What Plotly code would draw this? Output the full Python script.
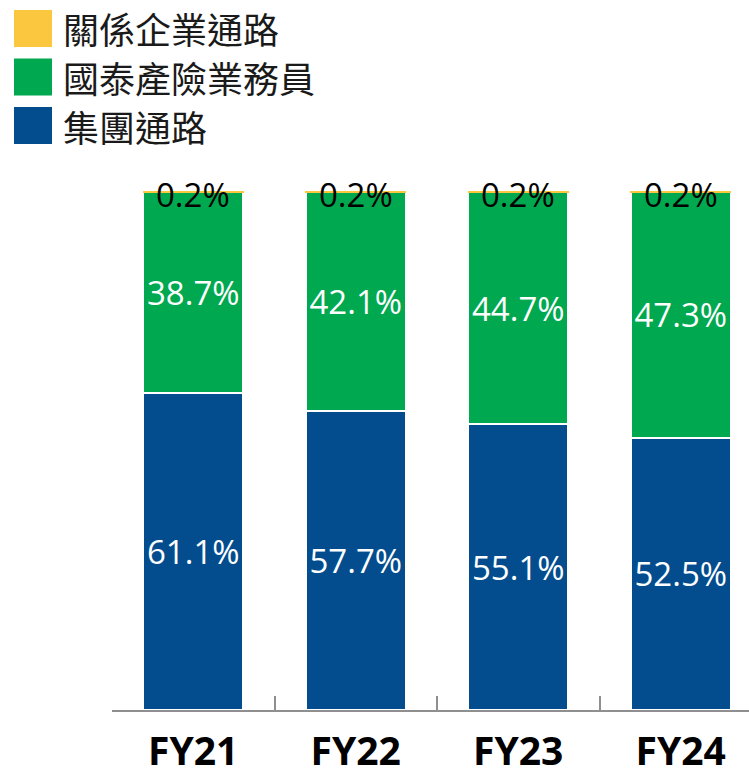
import plotly.graph_objects as go

# Channel mix by fiscal year (%)
years = ["FY21", "FY22", "FY23", "FY24"]
group_channel = [61.1, 57.7, 55.1, 52.5]      # 集團通路
agents = [38.7, 42.1, 44.7, 47.3]             # 國泰產險業務員
affiliates = [0.2, 0.2, 0.2, 0.2]             # 關係企業通路

series_names = ["集團通路", "國泰產險業務員", "關係企業通路"]
series_values = [group_channel, agents, affiliates]
series_colors = ["#034D8E", "#00A84F", "#FBC73E"]

W, H = 749, 777
L, R, T, B = 112, 0, 191, 67
LABEL_FONT = "Open Sans"

fig = go.Figure()
for name, vals, col in zip(series_names, series_values, series_colors):
    is_thin = name == "關係企業通路"
    fig.add_trace(go.Bar(
        x=years, y=vals, name=name,
        marker=dict(color=col,
                    line=dict(color=col if is_thin else "white", width=1 if is_thin else 2)),
        width=0.615,
        texttemplate="%{y:.1f}%",
        textposition="none" if is_thin else "inside",
        insidetextanchor="middle",
        textangle=0,
        constraintext="none",
        textfont=dict(family=LABEL_FONT, size=33, color="white"),
        cliponaxis=False,
        showlegend=False,
    ))

# Labels for the thin top segment, centred on it
thin_mid = [g + a + f / 2 for g, a, f in zip(group_channel, agents, affiliates)]
for yr, ym, v in zip(years, thin_mid, affiliates):
    fig.add_annotation(x=yr, y=ym, xref="x", yref="y", text=f"{v:.1f}%",
                       showarrow=False, xanchor="center", yanchor="middle", yshift=-3,
                       font=dict(family=LABEL_FONT, size=33, color="black"))

# Legend drawn as large swatches with labels (top-left corner)
pw, ph = W - L - R, H - T - B
def px(xp):
    return (xp - L) / pw
def py(yp):
    return (H - B - yp) / ph

legend_order = ["關係企業通路", "國泰產險業務員", "集團通路"]
legend_colors = {n: c for n, c in zip(series_names, series_colors)}
for i, name in enumerate(legend_order):
    top = 10 + i * 48.5
    fig.add_shape(type="rect", xref="paper", yref="paper",
                  x0=px(14), x1=px(52), y0=py(top), y1=py(top + 37),
                  fillcolor=legend_colors[name], line=dict(width=0))
    fig.add_annotation(xref="paper", yref="paper", x=px(61), y=py(top + 18.5),
                       xanchor="left", yanchor="middle", showarrow=False,
                       text=name, font=dict(family="Noto Sans CJK TC", size=36, color="#1a1a1a"))

fig.update_layout(
    width=W, height=H,
    margin=dict(l=L, r=R, t=T, b=B, pad=0),
    barmode="stack",
    plot_bgcolor="white", paper_bgcolor="white",
    showlegend=False,
)
fig.update_xaxes(
    range=[-0.5, 3.42],
    automargin=False,
    showline=True, linecolor="#8f8f8f", linewidth=2,
    ticks="inside", tickson="boundaries", ticklen=14, tickcolor="#8f8f8f", tickwidth=2,
    tickfont=dict(family=LABEL_FONT, size=39, color="black", weight="bold"),
    ticklabelstandoff=6,
    showgrid=False,
)
fig.update_yaxes(range=[0, 100], visible=False, showgrid=False)

fig.write_html("out.html")
